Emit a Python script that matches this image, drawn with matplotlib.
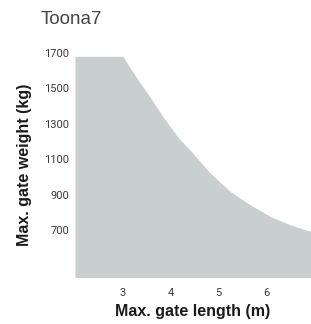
import matplotlib
matplotlib.use("Agg")
import matplotlib.pyplot as plt

title = "Toona7"
x_label = "Max. gate length (m)"
y_label = "Max. gate weight (kg)"
length_m = [2.0, 3.0, 3.25, 3.54, 3.85, 4.17, 4.42, 4.83, 5.25, 5.67, 6.09, 6.51, 6.95]
weight_kg = [1680, 1680, 1575, 1461, 1335, 1217, 1147, 1020, 916, 841, 775, 728, 690]
x_ticks = [3, 4, 5, 6]
y_ticks = [700, 900, 1100, 1300, 1500, 1700]

fig = plt.figure(figsize=(3.11, 3.24), dpi=100)
ax = fig.add_axes([0.241, 0.145, 0.759, 0.692])
ax.fill_between(length_m, weight_kg, 0, color="#c9cfcf", linewidth=0)
ax.set_xlim(2.0, 6.93)
ax.set_ylim(435, 1700)
ax.set_xticks(x_ticks)
ax.set_yticks(y_ticks)
for s in ax.spines.values():
    s.set_visible(False)
ax.tick_params(axis="both", length=0, colors="#3a3a3a", labelsize=8)
ax.tick_params(axis="y", pad=4)
ax.tick_params(axis="x", pad=8)
for lab in ax.get_xticklabels() + ax.get_yticklabels():
    lab.set_family("Roboto")
ax.set_xlabel(x_label, fontsize=11.5, fontweight="bold", family="Liberation Sans", color="#1a1a1a", labelpad=4)
ax.set_ylabel(y_label, fontsize=11.5, fontweight="bold", family="Liberation Sans", color="#1a1a1a", labelpad=9)
fig.text(41 / 311, 1 - 20 / 324, title, fontsize=13.5, family="Liberation Sans", color="#444444", va="center", ha="left")
fig.savefig("out.png", dpi=100)
